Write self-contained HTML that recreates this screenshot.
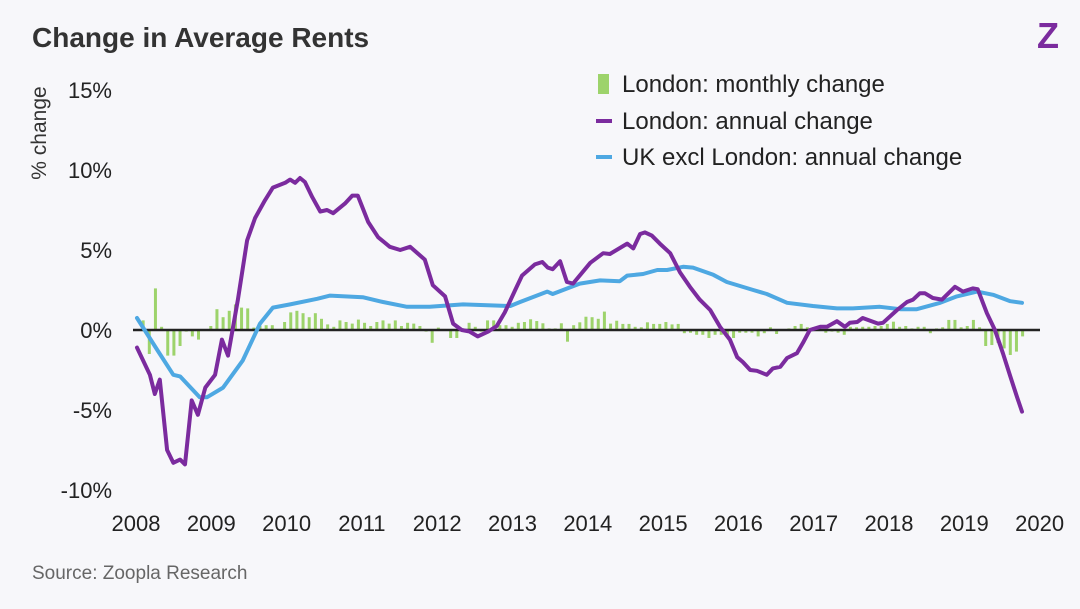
<!DOCTYPE html>
<html><head><meta charset="utf-8"><style>
html,body{margin:0;padding:0;background:#f7f7fa;}
body{width:1080px;height:604px;overflow:hidden;font-family:"Liberation Sans",sans-serif;}
svg text{font-family:"Liberation Sans",sans-serif;}
</style></head><body>
<svg id="chart" width="1080" height="604" viewBox="0 0 1080 604">
<rect x="0" y="0" width="1080" height="604" fill="#f7f7fa"/>
<text x="32" y="47" font-size="28" font-weight="bold" fill="#333">Change in Average Rents</text>
<text x="1048" y="48" font-size="36" font-weight="bold" fill="#7b2b9e" text-anchor="middle">Z</text>
<text transform="translate(46,133) rotate(-90)" font-size="21" fill="#333" text-anchor="middle">% change</text>
<g id="yticks"></g>
<g id="xticks"></g>
<g id="bars"></g>
<line id="zeroline" x1="133" x2="1040" stroke="#222" stroke-width="2.5"/>
<g id="lines"></g>
<g>
<g><rect x="598" y="74" width="11" height="20" fill="#9dd36b"/><text x="622" y="92" font-size="24" fill="#222">London: monthly change</text></g>
<g><line x1="596" x2="612" y1="121" y2="121" stroke="#7b2b9e" stroke-width="4"/><text x="622" y="129" font-size="24" fill="#222">London: annual change</text></g>
<g><line x1="596" x2="612" y1="157" y2="157" stroke="#4ea8e2" stroke-width="4"/><text x="622" y="165" font-size="24" fill="#222">UK excl London: annual change</text></g>
</g>
<text x="32" y="579" font-size="19" fill="#666">Source: Zoopla Research</text>
</svg>
<script>
const yTickValues=[15,10,5,0,-5,-10];
const yTickLabels=["15%","10%","5%","0%","-5%","-10%"];
const xTickLabels=["2008","2009","2010","2011","2012","2013","2014","2015","2016","2017","2018","2019","2020"];
const monthlyChange=[0.6,-1.5,2.6,0.2,-1.6,-1.6,-1.0,-0.1,-0.4,-0.6,0,0.25,1.3,0.8,1.2,1.6,1.4,1.35,0.15,0.25,0.3,0.3,0,0.5,1.1,1.2,1.05,0.8,1.05,0.7,0.35,0.2,0.6,0.5,0.4,0.65,0.45,0.25,0.5,0.6,0.4,0.6,0.25,0.45,0.4,0.25,-0.1,-0.8,0.15,0,-0.5,-0.5,0.1,0.45,0.2,-0.1,0.6,0.6,0.3,0.3,0.2,0.45,
0.5,0.67,0.56,0.42,0.1,0.1,0.42,-0.73,0.3,0.48,0.83,0.8,0.7,1.15,0.4,0.58,0.38,0.38,0.2,0.17,0.48,0.38,0.38,0.5,0.35,0.38,-0.2,-0.17,-0.3,-0.3,-0.5,-0.3,-0.3,-0.38,-0.5,-0.17,-0.17,-0.17,-0.4,-0.2,0.17,-0.25,0.06,0.1,0.25,0.38,0.17,0.17,0.17,-0.17,-0.1,-0.17,-0.3,0.2,0.17,0.2,0.2,0.25,0.25,0.38,0.52,0.2,0.25,0.1,0.2,0.2,-0.2,0.1,0.17,0.63,0.63,0.17,0.25,0.63,0.17,-1.0,-0.94,-0.8,-1.15,-1.56,-1.35,-0.4];
const londonMonths=[0,2.1,2.9,3.7,4.9,5.9,7.0,7.8,8.9,9.9,11.1,12.7,13.8,14.8,16.4,17.9,19.2,20.8,22.1,24.1,24.9,25.7,26.5,27.3,28.5,29.8,30.9,31.9,33.8,35.0,35.9,37.6,39.2,41.1,42.8,44.4,46.8,48.1,50.1,51.4,52.8,54.1,55.4,57.1,58.5,59.8,61.5,62.6,64.7,65.9,66.8,67.6,68.8,69.9,70.9,73.7,75.8,76.9,79.7,80.7,81.8,82.6,83.7,85.0,86.7,88.3,89.9,91.5,93.2,94.8,96.4,97.6,98.5,99.7,100.8,102.4,103.4,104.6,105.7,107.3,108.3,109.4,111.1,112.2,113.8,115.1,115.9,117.1,118.0,120.5,121.3,123.6,125.2,126.2,127.3,128.1,129.4,130.9,133.0,134.3,135.9,136.7,138.2,139.5,140.8,142.0,143.1,143.9];
const londonAnnual=[-1.1,-2.8,-4,-3.1,-7.5,-8.3,-8.1,-8.4,-4.4,-5.3,-3.6,-2.8,-0.6,-1.6,1.9,5.6,7,8.1,8.9,9.2,9.4,9.2,9.5,9.25,8.3,7.4,7.5,7.3,7.9,8.4,8.4,6.75,5.8,5.2,5,5.2,4.4,2.8,2.1,0.4,0,-0.1,-0.4,-0.1,0.25,1.1,2.5,3.4,4.1,4.25,3.9,3.8,4.3,3.0,2.9,4.2,4.8,4.75,5.4,5.1,6.0,6.1,5.9,5.4,4.8,3.6,2.7,1.9,1.25,0.2,-0.6,-1.7,-2,-2.5,-2.55,-2.8,-2.4,-2.3,-1.75,-1.45,-0.8,0,0.2,0.2,0.55,0.2,0.45,0.5,0.75,0.4,0.45,1.25,1.75,1.9,2.3,2.3,2.0,1.9,2.7,2.4,2.6,2.55,1.05,0,-1.45,-2.9,-4.2,-5.1];
const ukMonths=[0,3.3,5.9,7.0,10.2,11.4,14.0,17.2,20.0,22.1,24.9,29.3,31.4,36.7,40.0,43.9,47.6,53.0,60.7,62.3,66.7,67.6,72.0,75.3,78.5,79.7,82.3,84.6,86.2,88.8,90.4,93.7,95.9,100.2,102.4,105.7,109.9,113.8,116.4,120.8,124.1,126.8,130.6,133.3,136.6,139.2,142.0,143.9];
const ukAnnual=[0.75,-1.25,-2.8,-2.9,-4.2,-4.2,-3.6,-1.9,0.4,1.4,1.6,1.95,2.15,2.05,1.75,1.45,1.45,1.6,1.5,1.75,2.4,2.25,2.9,3.1,3.05,3.4,3.5,3.75,3.75,3.95,3.9,3.45,3.0,2.5,2.25,1.7,1.5,1.35,1.35,1.45,1.3,1.3,1.7,2.1,2.4,2.2,1.8,1.7];

const NS='http://www.w3.org/2000/svg';
function x(m){return 137+m*6.15;}
function y(v){return 330-v*16;}
function labelX(i){return 136+i*75.3;}
function mk(tag,attrs,parent){const e=document.createElementNS(NS,tag);for(const k in attrs)e.setAttribute(k,attrs[k]);parent.appendChild(e);return e;}

const yt=document.getElementById('yticks');
yTickValues.forEach((v,i)=>{
  const t=mk('text',{x:112,y:y(v)+8,'font-size':22,fill:'#222','text-anchor':'end'},yt);
  
  
  t.textContent=yTickLabels[i];
});
const xt=document.getElementById('xticks');
xTickLabels.forEach((l,i)=>{
  const t=mk('text',{x:labelX(i),y:531,'font-size':22,fill:'#222','text-anchor':'middle'},xt);
  
  
  t.textContent=l;
});
const bg=document.getElementById('bars');
monthlyChange.forEach((v,i)=>{
  const cx=x(i+1);
  const r=mk('rect',{x:cx-1.5,y:Math.min(y(v),y(0)),width:3,height:Math.abs(y(v)-y(0)),fill:'#9dd36b'},bg);
  
  
});
document.getElementById('zeroline').setAttribute('y1',y(0));
document.getElementById('zeroline').setAttribute('y2',y(0));
const lg=document.getElementById('lines');
function line(ms,vs,color,name){
  const d=ms.map((m,i)=>(i?'L':'M')+x(m).toFixed(1)+','+y(vs[i]).toFixed(1)).join(' ');
  const p=mk('path',{d:d,fill:'none',stroke:color,'stroke-width':4,'stroke-linejoin':'round','stroke-linecap':'round'},lg);
  
  
}
line(ukMonths,ukAnnual,'#4ea8e2','uk-annual-line');
line(londonMonths,londonAnnual,'#7b2b9e','london-annual-line');
</script>
</body></html>
